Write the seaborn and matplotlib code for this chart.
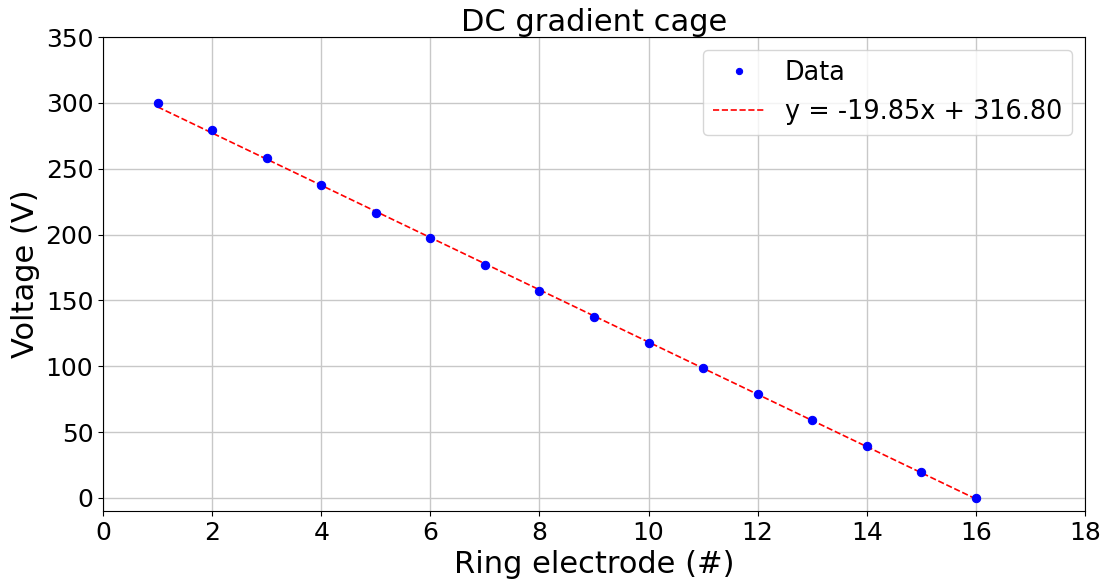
import matplotlib
matplotlib.use("Agg")
import matplotlib.pyplot as plt
import seaborn as sns
import numpy as np
import pandas as pd

electrode = [1, 2, 3, 4, 5, 6, 7, 8, 9, 10, 11, 12, 13, 14, 15, 16]
voltage = [300, 279.5, 258.5, 237.5, 216.5, 197, 177, 157, 137.5, 118, 98.5, 79, 59.5, 39.5, 19.5, 0]
slope = -19.85
intercept = 316.80

sns.set_style("ticks")
plt.rcParams['font.family'] = ['DejaVu Sans']
plt.rcParams['text.color'] = 'black'
plt.rcParams['axes.labelcolor'] = 'black'
plt.rcParams['xtick.color'] = 'black'
plt.rcParams['ytick.color'] = 'black'

fig, ax = plt.subplots(figsize=(11.06, 5.79), dpi=100)
fig.subplots_adjust(left=0.0932, right=0.981, top=0.936, bottom=0.1174)

df = pd.DataFrame({"x": electrode, "y": voltage})
fit_x = np.array(electrode, dtype=float)
fit_df = pd.DataFrame({"x": fit_x, "y": slope * fit_x + intercept})

ax.grid(True, color="#c8c8c8", linewidth=1.0)
ax.set_axisbelow(True)
sns.lineplot(data=df, x="x", y="y", ax=ax, color="blue", marker="o", markersize=6,
             markeredgecolor="blue", linestyle="None", label="Data", zorder=3)
sns.lineplot(data=fit_df, x="x", y="y", ax=ax, color="red", linestyle="--", linewidth=1.2,
             label=f"y = {slope:.2f}x + {intercept:.2f}", zorder=2)

ax.set_xlim(0, 18)
ax.set_ylim(-10, 350)
ax.set_xticks(range(0, 19, 2))
ax.set_yticks(range(0, 351, 50))
ax.tick_params(labelsize=18)
ax.set_xlabel("Ring electrode (#)", fontsize=22)
ax.set_ylabel("Voltage (V)", fontsize=22)
ax.set_title("DC gradient cage", fontsize=22, pad=4)
for s in ax.spines.values():
    s.set_color("black")
ax.legend(fontsize=18.4, loc="upper right", frameon=True, markerscale=0.75)

fig.savefig("out.png", dpi=100)
